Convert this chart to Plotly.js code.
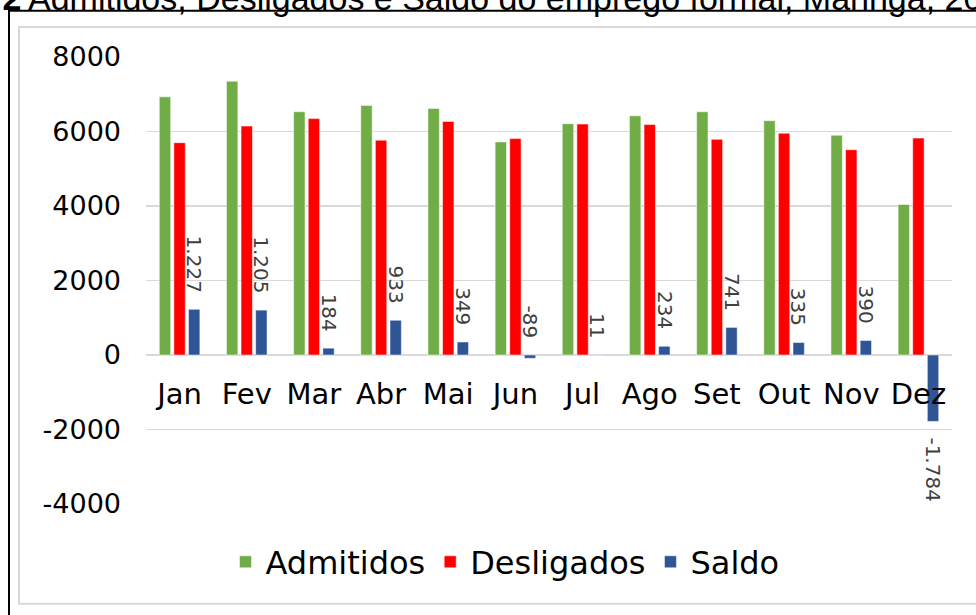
<!DOCTYPE html>
<html>
<head>
<meta charset="utf-8">
<script src="https://cdn.plot.ly/plotly-3.0.1.min.js"></script>
<style>html,body{margin:0;padding:0;background:#fff;}#chart{width:976px;height:615px;}</style>
</head>
<body>
<div id="chart"></div>
<script>
const months = ['Jan','Fev','Mar','Abr','Mai','Jun','Jul','Ago','Set','Out','Nov','Dez'];
const admitidos = [6930, 7350, 6530, 6700, 6620, 5720, 6210, 6420, 6530, 6290, 5900, 4040];
const desligados = [5700, 6145, 6346, 5767, 6271, 5809, 6199, 6186, 5789, 5955, 5510, 5824];
const saldo = [1227, 1205, 184, 933, 349, -89, 11, 234, 741, 335, 390, -1784];
const yTicks = [-4000, -2000, 0, 2000, 4000, 6000, 8000];
const titlePrefix = 'FIGURA 2';
const titleText = 'Admitidos, Desligados e Saldo do emprego formal, Maringá, 2019';

const W = 976, H = 615, L = 146, R = 952, T = 57, B = 504;
const px = v => (v - L) / (R - L);
const py = v => (B - v) / (B - T);
const fmt = n => (n < 0 ? '-' : '') + String(Math.abs(n)).replace(/\B(?=(\d{3})+(?!\d))/g, '.');

const bargap = 0.348;
const slot = (R - L) / months.length * (1 - bargap) / 3;
const FONT = 'DejaVu Sans, Verdana, sans-serif';

const traces = [
  {type:'bar', name:'Admitidos', x:months, y:admitidos, marker:{color:'#70AD47', line:{color:'rgba(255,255,255,0.5)', width:1}}},
  {type:'bar', name:'Desligados', x:months, y:desligados, marker:{color:'#FF0000', line:{color:'rgba(255,255,255,0.5)', width:1}}},
  {type:'bar', name:'Saldo', x:months, y:saldo, marker:{color:'#2F5597', line:{color:'rgba(255,255,255,0.5)', width:1}}}
];

// small negative values get their label above the axis (as in the original)
const annotations = saldo.map((v, i) => {
  const above = v >= 0 || v > -500;
  return {
    x: months[i], y: v >= 0 ? v : (above ? 0 : v), xref:'x', yref:'y', text: fmt(v), showarrow:false,
    textangle: 90, xshift: slot, yshift: above ? 15 : -14,
    yanchor: above ? 'bottom' : 'top', xanchor:'center',
    font:{family:FONT, size:20, color:'#404040'}
  };
});
annotations.push({
  xref:'paper', yref:'paper', x: px(23), y: py(-2), xanchor:'right', yanchor:'middle',
  text:'<b>' + titlePrefix + '</b>', showarrow:false,
  font:{family:'Liberation Sans, Arial, sans-serif', size:34, color:'#000'}
});
annotations.push({
  xref:'paper', yref:'paper', x: px(26), y: py(-2), xanchor:'left', yanchor:'middle',
  text: titleText, showarrow:false,
  font:{family:'Liberation Sans, Arial, sans-serif', size:34, color:'#000'}
});

const layout = {
  width:W, height:H,
  margin:{l:L, r:W-R, t:T, b:H-B, pad:0},
  paper_bgcolor:'#fff', plot_bgcolor:'#fff',
  barmode:'group', bargap:bargap, bargroupgap:0.22,
  font:{family:FONT, color:'#000'},
  showlegend:true,
  legend:{orientation:'h', x:px(505), xanchor:'center', y:py(562), yanchor:'middle',
          font:{family:FONT, size:32, color:'#000'}, itemclick:false},
  xaxis:{type:'category', anchor:'free', position:1/3, showline:false, showgrid:false,
         ticks:'', ticklabelstandoff:19, tickfont:{family:FONT, size:29, color:'#000'}, fixedrange:true},
  yaxis:{range:[-4000, 8000], tickvals:yTicks, ticktext:yTicks.map(String), showline:false,
         showgrid:true, gridcolor:'#d9d9d9', gridwidth:1.5, zeroline:true, zerolinecolor:'#d9d9d9', zerolinewidth:1.5,
         ticks:'', ticklabelstandoff:24, tickfont:{family:FONT, size:27, color:'#000'}, fixedrange:true},
  annotations: annotations,
  shapes:[
    {type:'line', xref:'paper', yref:'paper', x0:px(9), x1:px(9), y0:py(10.7), y1:py(630), line:{color:'#000', width:2}, layer:'above'},
    {type:'line', xref:'paper', yref:'paper', x0:px(8), x1:px(990), y0:py(10.7), y1:py(10.7), line:{color:'#000', width:2}, layer:'above'},
    {type:'rect', xref:'paper', yref:'paper', x0:px(19), x1:px(1000), y0:py(27), y1:py(603.7), line:{color:'#d9d9d9', width:2}, fillcolor:'rgba(0,0,0,0)', layer:'below'}
  ]
};

Plotly.newPlot('chart', traces, layout, {displayModeBar:false, staticPlot:true});
</script>
</body>
</html>
